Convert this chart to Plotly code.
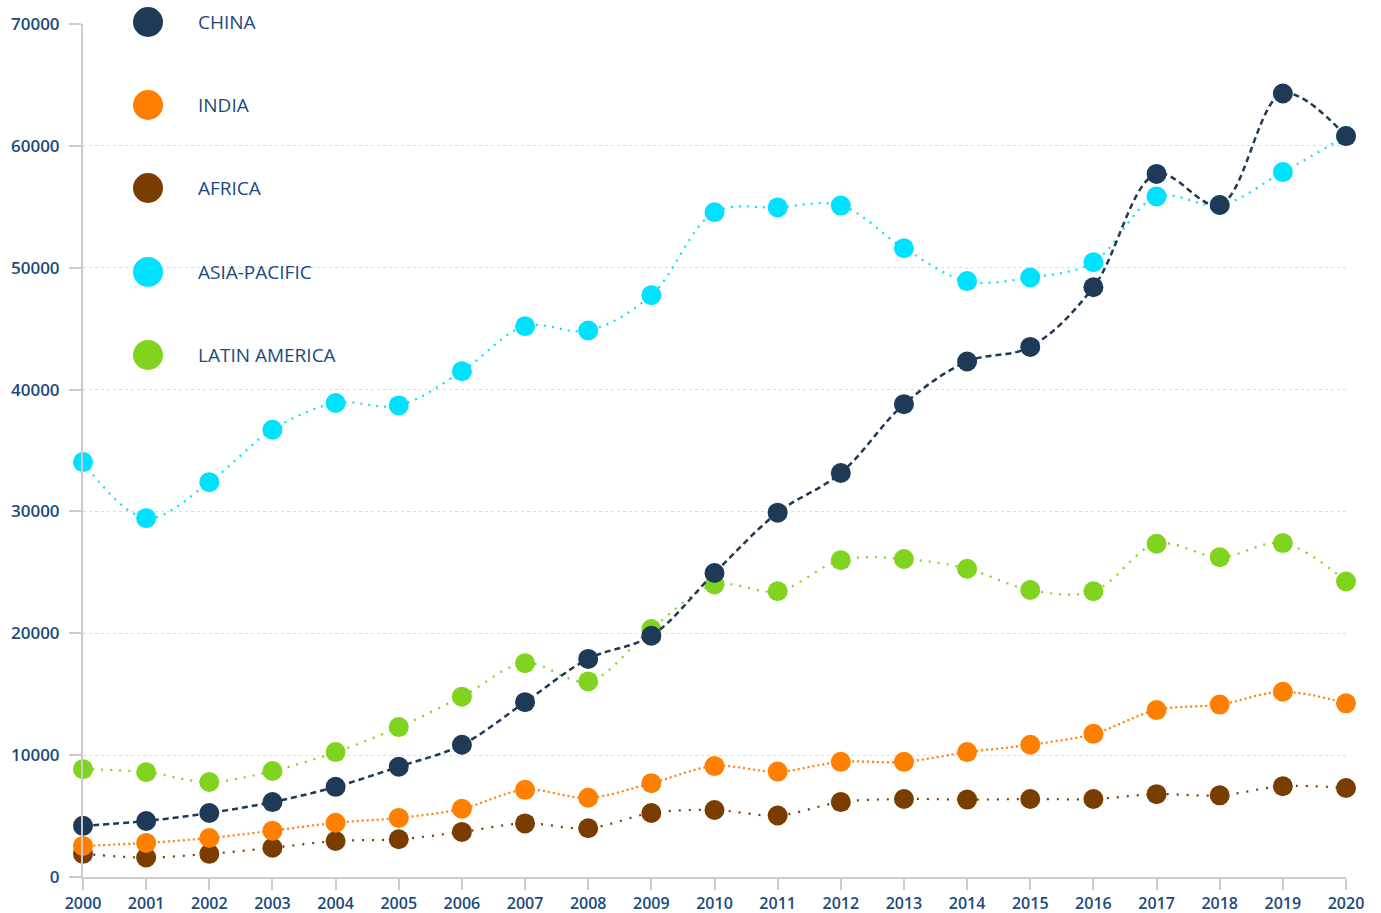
import plotly.graph_objects as go

years = list(range(2000, 2021))

china = [4200, 4600, 5250, 6150, 7400, 9050, 10850, 14350, 17900, 19800, 24950,
         29900, 33150, 38800, 42300, 43500, 48400, 57700, 55150, 64300, 60800]
india = [2550, 2800, 3200, 3800, 4450, 4850, 5600, 7150, 6500, 7700, 9100,
         8650, 9450, 9450, 10250, 10850, 11750, 13700, 14150, 15200, 14250]
africa = [1900, 1600, 1900, 2400, 2950, 3100, 3700, 4400, 4000, 5250, 5500,
          5050, 6150, 6400, 6350, 6400, 6400, 6800, 6700, 7450, 7300]
asia_pacific = [34050, 29450, 32400, 36700, 38900, 38700, 41500, 45200, 44850, 47750, 54550,
                54950, 55100, 51600, 48900, 49200, 50450, 55850, 55150, 57850, 60800]
latin_america = [8850, 8600, 7800, 8700, 10250, 12300, 14800, 17550, 16050, 20350, 24000,
                 23450, 26000, 26100, 25300, 23550, 23450, 27350, 26250, 27400, 24250]

names = ["CHINA", "INDIA", "AFRICA", "ASIA-PACIFIC", "LATIN AMERICA"]
colors = ["#1f3a56", "#ff8000", "#7a3d00", "#00e1ff", "#80d31e"]
dashes = ["6px,4px", "2px,3px", "2px,8px", "2px,6px", "2px,7px"]
series = [china, india, africa, asia_pacific, latin_america]

text_color = "#1b4a7e"
font_family = "'Open Sans', Lato, sans-serif"

fig = go.Figure()

# draw in reverse order so China sits on top
for name, vals, col, dash in reversed(list(zip(names, series, colors, dashes))):
    fig.add_trace(go.Scatter(
        x=years, y=vals, name=name, mode="lines+markers",
        line=dict(color=col, width=2.5 if name == "CHINA" else 2.2, dash=dash,
                  shape="spline", smoothing=1),
        marker=dict(color=col, size=20, line=dict(width=0)),
        cliponaxis=False, showlegend=False,
    ))

# custom legend: big circles with labels on the left of the plot
W, H = 1381, 913
L, R, T, B = 83, 35, 24, 36
pw, ph = W - L - R, H - T - B
legend_y = [22, 105, 188, 272, 355]
for name, col, py in zip(names, colors, legend_y):
    cx = (148 - L) / pw
    cy = (H - B - py) / ph
    rx, ry = 15 / pw, 15 / ph
    fig.add_shape(type="circle", xref="paper", yref="paper",
                  x0=cx - rx, x1=cx + rx, y0=cy - ry, y1=cy + ry,
                  fillcolor=col, line=dict(width=0))
    fig.add_annotation(xref="paper", yref="paper", x=(196 - L) / pw, y=cy,
                       xanchor="left", yanchor="middle", showarrow=False,
                       text=name, font=dict(size=19, color=text_color, family=font_family,
                                            weight=500))

fig.update_xaxes(
    range=[2000, 2020], tickvals=years, showgrid=False,
    showline=True, linecolor="#cccccc", linewidth=2,
    ticks="outside", ticklen=11, tickcolor="#cccccc", tickwidth=2,
    tickfont=dict(size=16, color=text_color, family=font_family, weight=600),
    zeroline=False, automargin=False,
)
fig.update_yaxes(
    range=[0, 70000], dtick=10000, tickformat="d",
    showgrid=True, gridcolor="#dddddd", griddash="dot", gridwidth=1,
    showline=True, linecolor="#cccccc", linewidth=2,
    ticks="outside", ticklen=12, tickcolor="#cccccc", tickwidth=2,
    tickfont=dict(size=17, color=text_color, family=font_family, weight=600),
    ticklabelstandoff=6, zeroline=False, automargin=False,
)
fig.update_layout(
    width=W, height=H,
    margin=dict(l=L, r=R, t=T, b=B),
    plot_bgcolor="white", paper_bgcolor="white",
    font=dict(family=font_family, color=text_color),
)

# drop the default page margin so the figure fills the window
fig.write_html("out.html", config={"displayModeBar": False},
               post_script="document.body.style.margin='0';"
                           "document.body.style.overflow='hidden';")
